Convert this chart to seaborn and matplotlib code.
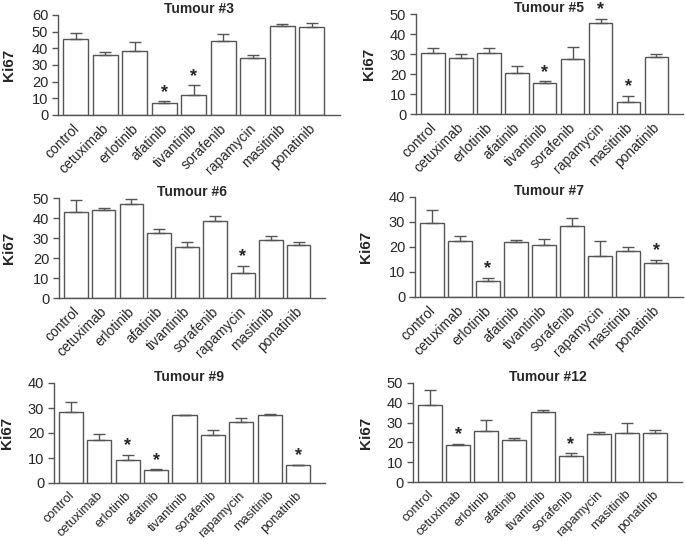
import numpy as np
import pandas as pd
import matplotlib
matplotlib.use('Agg')
import matplotlib.pyplot as plt
import matplotlib.transforms as mtransforms
import seaborn as sns

drugs = ['control', 'cetuximab', 'erlotinib', 'afatinib', 'tivantinib',
         'sorafenib', 'rapamycin', 'masitinib', 'ponatinib']

# mean Ki67 and upper error per tumour
t3_mean = [45.5, 35.8, 38.2, 7.2, 12.0, 44.5, 34.3, 53.6, 53.0]
t3_err = [3.8, 2.2, 5.5, 1.0, 5.8, 4.3, 2.0, 0.8, 2.2]
t3_sig = ['afatinib', 'tivantinib']

t5_mean = [30.7, 28.2, 30.7, 20.3, 15.3, 27.5, 45.7, 6.2, 28.3]
t5_err = [2.5, 2.0, 2.2, 3.7, 1.0, 6.0, 2.0, 3.0, 1.5]
t5_sig = ['tivantinib', 'rapamycin', 'masitinib']

t6_mean = [43.0, 44.2, 47.2, 32.7, 25.5, 38.5, 12.5, 29.2, 26.7]
t6_err = [5.8, 0.8, 2.3, 1.6, 2.5, 2.3, 3.7, 1.8, 1.3]
t6_sig = ['rapamycin']

t7_mean = [29.6, 22.3, 6.5, 21.9, 20.8, 28.5, 16.4, 18.4, 13.5]
t7_err = [5.2, 2.1, 1.2, 1.0, 2.5, 3.2, 5.9, 1.7, 1.4]
t7_sig = ['erlotinib', 'ponatinib']

t9_mean = [28.4, 17.1, 9.2, 5.2, 27.3, 19.3, 24.3, 27.1, 7.3]
t9_err = [3.9, 2.5, 2.0, 0.3, 0.0, 2.0, 1.7, 0.6, 0.0]
t9_sig = ['erlotinib', 'afatinib', 'ponatinib']

t12_mean = [38.9, 18.7, 25.9, 21.2, 35.4, 13.1, 24.2, 24.6, 24.7]
t12_err = [7.4, 0.5, 5.4, 1.0, 1.0, 1.5, 0.9, 5.4, 1.5]
t12_sig = ['cetuximab', 'sorafenib']

sns.set_style('white')
plt.rcParams['font.family'] = ['Liberation Sans', 'DejaVu Sans']

W, H = 685, 541
fig = plt.figure(figsize=(6.85, 5.41), dpi=100)

# (title, means, errors, significant, ymax, [left, right, top, bottom] px,
#  ylabel right edge px, x label size)
panels = [
    ('Tumour #3', t3_mean, t3_err, t3_sig, 60, [58, 340, 15, 115], 16, 10),
    ('Tumour #5', t5_mean, t5_err, t5_sig, 50, [416, 683, 14, 114], 376, 10),
    ('Tumour #6', t6_mean, t6_err, t6_sig, 50, [59, 325, 198, 298], 16, 10),
    ('Tumour #7', t7_mean, t7_err, t7_sig, 40, [415, 683, 197, 297], 373, 10),
    ('Tumour #9', t9_mean, t9_err, t9_sig, 40, [54, 325, 383, 483], 14, 9.3),
    ('Tumour #12', t12_mean, t12_err, t12_sig, 50, [413, 682, 383, 482], 373, 9.3),
]

edge = '#555555'
shift = mtransforms.ScaledTranslation(6 / 100, 0, fig.dpi_scale_trans)

for title, means, errs, sig, ymax, (l, r, t, b), ylx, xsize in panels:
    ax = fig.add_axes([l / W, 1 - b / H, (r - l) / W, (b - t) / H])
    df = pd.DataFrame({'drug': drugs, 'Ki67': means, 'err': errs})
    sns.barplot(data=df, x='drug', y='Ki67', color='white', edgecolor=edge,
                linewidth=1.0, width=0.85, errorbar=None, ax=ax)
    xs = np.arange(len(drugs))
    ax.errorbar(xs, df['Ki67'], yerr=[np.zeros(len(drugs)), df['err']],
                fmt='none', ecolor=edge, elinewidth=1.0, capsize=4, capthick=1.0)
    for i, d in enumerate(drugs):
        if d in sig:
            ax.text(i, df['Ki67'][i] + df['err'][i] + ymax * 0.005, '*',
                    ha='center', va='bottom', fontsize=13, fontweight='bold')
    ax.set_ylim(0, ymax)
    ax.set_yticks(np.arange(0, ymax + 1, 10))
    ax.set_xlim(-0.6, len(drugs) - 0.05)
    sns.despine(ax=ax)
    for s in ['left', 'bottom']:
        ax.spines[s].set_color(edge)
        ax.spines[s].set_linewidth(1.0)
    ax.tick_params(axis='y', left=True, length=4, width=1, color=edge,
                   labelsize=10.5, pad=3)
    ax.tick_params(axis='x', bottom=False, labelsize=xsize, pad=1)
    for lab in ax.get_xticklabels():
        lab.set_rotation(45)
        lab.set_ha('right')
        lab.set_va('top')
        lab.set_transform(lab.get_transform() + shift)
    ax.set_xlabel('')
    ax.set_ylabel('Ki67', fontsize=11, fontweight='bold')
    ax.yaxis.set_label_coords((ylx - l) / (r - l), 0.5)
    ax.set_title(title, fontsize=10, fontweight='bold', pad=1.5)

fig.savefig('out.png', dpi=100)
